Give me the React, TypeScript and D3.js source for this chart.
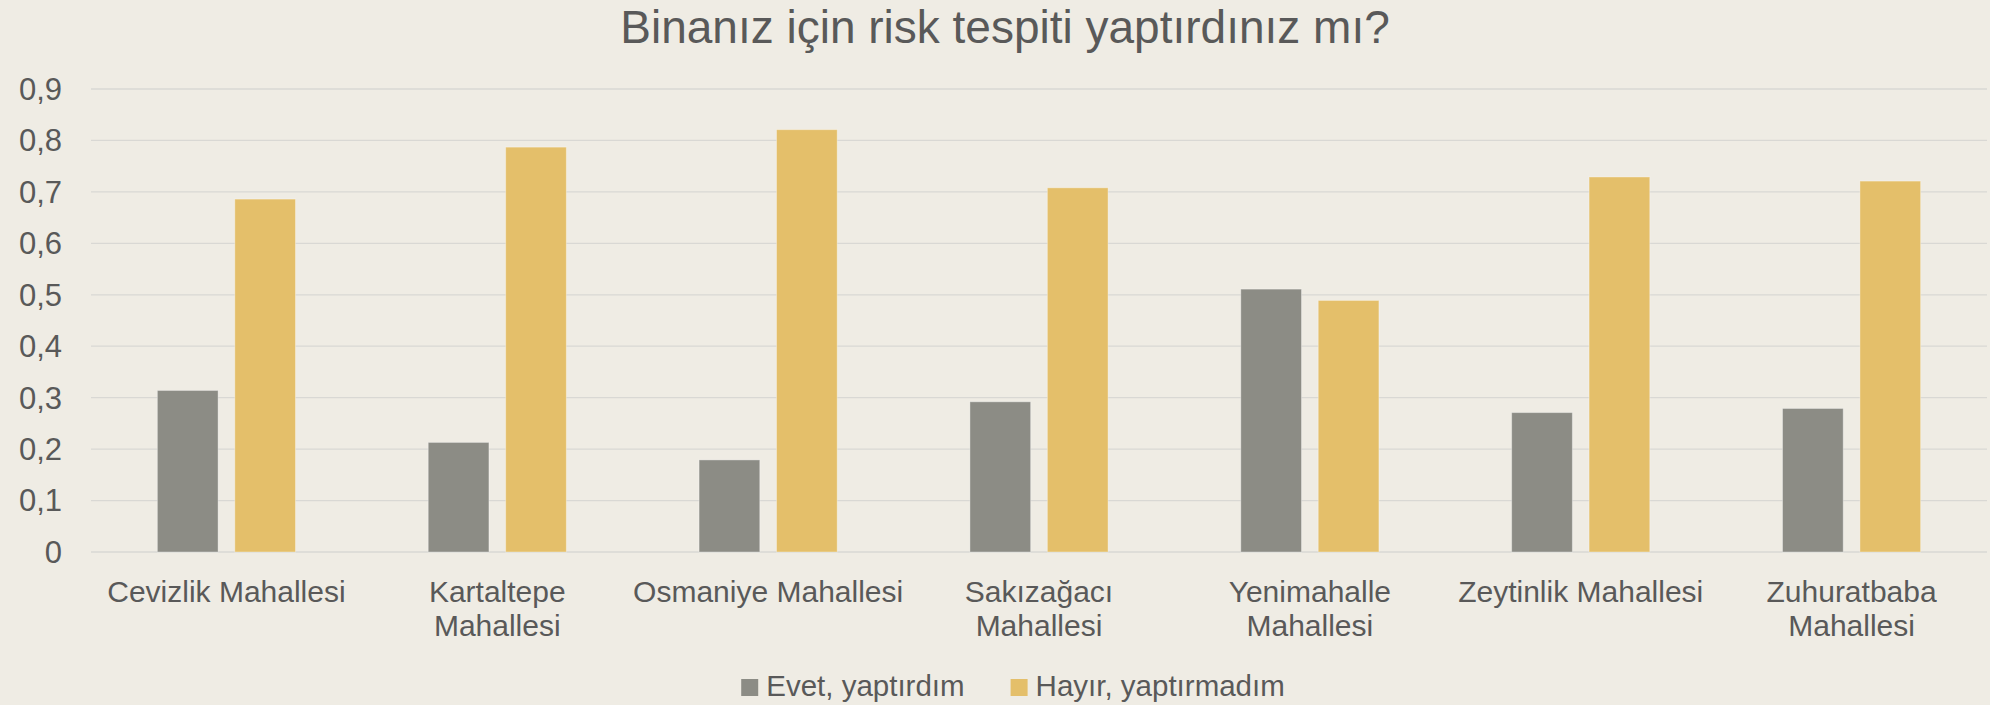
import React, { useEffect, useRef } from "react";
import * as d3 from "d3";

const title = "Binanız için risk tespiti yaptırdınız mı?";
const categories = [
  "Cevizlik Mahallesi",
  "Kartaltepe Mahallesi",
  "Osmaniye Mahallesi",
  "Sakızağacı Mahallesi",
  "Yenimahalle Mahallesi",
  "Zeytinlik Mahallesi",
  "Zuhuratbaba Mahallesi",
];
const categoryLabelLines = [
  ["Cevizlik Mahallesi"],
  ["Kartaltepe", "Mahallesi"],
  ["Osmaniye Mahallesi"],
  ["Sakızağacı", "Mahallesi"],
  ["Yenimahalle", "Mahallesi"],
  ["Zeytinlik Mahallesi"],
  ["Zuhuratbaba", "Mahallesi"],
];
const seriesNames = ["Evet, yaptırdım", "Hayır, yaptırmadım"];
const evetValues = [0.314, 0.213, 0.179, 0.292, 0.511, 0.271, 0.279];
const hayirValues = [0.686, 0.787, 0.821, 0.708, 0.489, 0.729, 0.721];
const yTicks = [0, 0.1, 0.2, 0.3, 0.4, 0.5, 0.6, 0.7, 0.8, 0.9];
const seriesColors = ["#8C8C85", "#E4BF6A"];

const W = 1990;
const H = 705;
const FONT = "'Franklin Gothic Book', 'Liberation Sans', Arial, sans-serif";
const TEXT = "#595959";

export default function App() {
  const ref = useRef<SVGSVGElement | null>(null);

  useEffect(() => {
    const svg = d3.select(ref.current);
    svg.selectAll("*").remove();

    svg.append("rect").attr("width", W).attr("height", H).attr("fill", "#EFECE4");

    const plotLeft = 91, plotRight = 1987, plotTop = 89, plotBottom = 552;
    const x0 = d3.scaleBand<string>().domain(categories).range([plotLeft, plotRight]).paddingInner(0).paddingOuter(0);
    const y = d3.scaleLinear().domain([0, 0.9]).range([plotBottom, plotTop]);

    // title
    svg.append("text")
      .attr("x", 1005).attr("y", 43)
      .attr("text-anchor", "middle")
      .attr("font-family", FONT).attr("font-size", 46)
      .attr("fill", TEXT).text(title);

    // gridlines
    svg.append("g").selectAll("line").data(yTicks).join("line")
      .attr("x1", plotLeft).attr("x2", plotRight)
      .attr("y1", (d) => y(d)).attr("y2", (d) => y(d))
      .attr("stroke", "#D9D8D4").attr("stroke-width", 1.3);

    // y labels
    const fmt = (v: number) => (v === 0 ? "0" : d3.format(".1f")(v).replace(".", ","));
    svg.append("g").selectAll("text").data(yTicks).join("text")
      .attr("x", 62).attr("y", (d) => y(d))
      .attr("dy", "0.35em")
      .attr("text-anchor", "end")
      .attr("font-family", FONT).attr("font-size", 31)
      .attr("fill", TEXT).text((d) => fmt(d));

    // bars
    const bw = x0.bandwidth();
    const groupW = bw * 0.51;
    const seriesValues = [evetValues, hayirValues];
    categories.forEach((c, i) => {
      const cx = (x0(c) as number) + bw / 2;
      const x1 = d3.scaleBand<number>().domain([0, 1]).range([cx - groupW / 2, cx + groupW / 2]).paddingInner(0.2158).paddingOuter(0);
      seriesValues.forEach((vals, s) => {
        svg.append("rect")
          .attr("x", x1(s) as number)
          .attr("y", y(vals[i]))
          .attr("width", x1.bandwidth())
          .attr("height", y(0) - y(vals[i]))
          .attr("fill", seriesColors[s])
          .attr("stroke", "rgba(255,255,255,0.35)")
          .attr("stroke-width", 1);
      });
    });

    // x labels
    categories.forEach((c, i) => {
      const cx = (x0(c) as number) + bw / 2;
      const t = svg.append("text")
        .attr("text-anchor", "middle")
        .attr("font-family", FONT).attr("font-size", 30)
        .attr("fill", TEXT);
      categoryLabelLines[i].forEach((line, k) => {
        t.append("tspan").attr("x", cx).attr("y", 602 + k * 34.3).text(line);
      });
    });

    // legend
    const lg = svg.append("g");
    const sq = 17;
    let xPos = 0;
    seriesNames.forEach((name, s) => {
      const g = lg.append("g").attr("transform", `translate(${xPos},0)`);
      g.append("rect").attr("x", 0).attr("y", 679).attr("width", sq).attr("height", sq).attr("fill", seriesColors[s]);
      const tx = g.append("text")
        .attr("x", sq + 8).attr("y", 696)
        .attr("font-family", FONT).attr("font-size", 29.5)
        .attr("fill", TEXT).text(name);
      const tw = (tx.node() as SVGTextElement).getComputedTextLength();
      const w = sq + 8 + tw;
      xPos += w + 46;
    });
    const total = xPos - 46;
    lg.attr("transform", `translate(${1013 - total / 2},0)`);
  }, []);

  return (
    <svg ref={ref} width={W} height={H} style={{ position: "absolute", left: 0, top: 0 }} />
  );
}
